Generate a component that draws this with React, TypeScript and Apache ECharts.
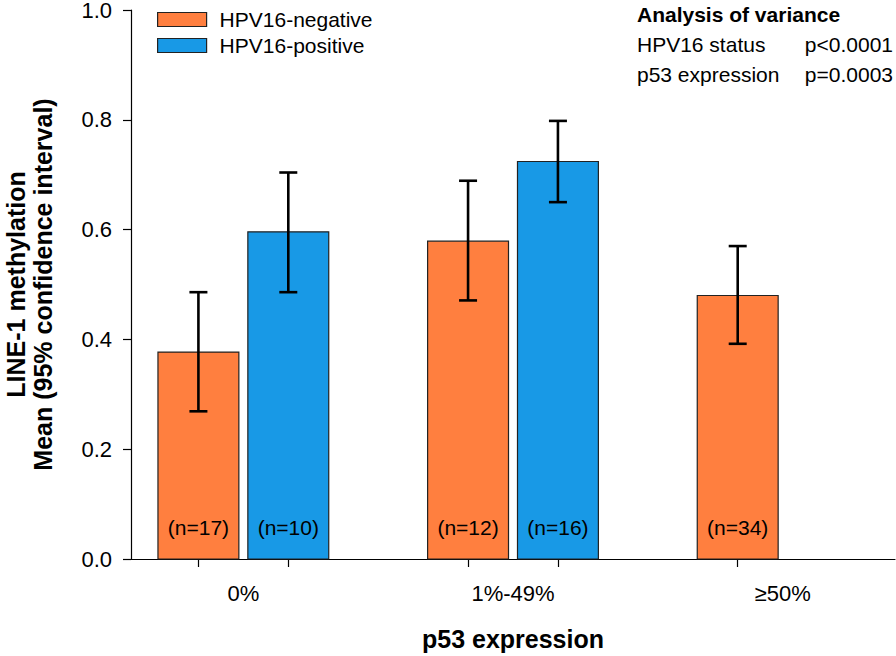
import React, { useEffect, useRef } from "react";
import * as echarts from "echarts";

const categories = ["0%", "1%-49%", "≥50%"];
const seriesNames = ["HPV16-negative", "HPV16-positive"];
const negMeans = [0.377, 0.579, 0.48];
const negLow = [0.269, 0.471, 0.392];
const negHigh = [0.486, 0.689, 0.57];
const negN = ["(n=17)", "(n=12)", "(n=34)"];
const posMeans: (number | null)[] = [0.596, 0.724, null];
const posLow: (number | null)[] = [0.486, 0.65, null];
const posHigh: (number | null)[] = [0.704, 0.798, null];
const posN: (string | null)[] = ["(n=10)", "(n=16)", null];
const anovaTitle = "Analysis of variance";
const anovaFactors = ["HPV16 status", "p53 expression"];
const anovaP = ["p<0.0001", "p=0.0003"];
const yAxisTitle = "LINE-1 methylation\nMean (95% confidence interval)";
const xAxisTitle = "p53 expression";

const FONT = "'Liberation Sans', Arial, sans-serif";
const ORANGE = "#FF7F3F";
const BLUE = "#1899E6";
const OFF = 1 / 6;
const MARGIN = 5 / 12;
const BAR_W = 0.3;

export default function App() {
  const ref = useRef<HTMLDivElement>(null);
  useEffect(() => {
    if (!ref.current) return;
    const chart = echarts.init(ref.current, undefined, { renderer: "svg" });

    const catPos = categories.map((_, i) => MARGIN + i);
    const negData = negMeans.map((v, i) => [catPos[i] - OFF, v]);
    const posData: number[][] = [];
    const posLabels: string[] = [];
    posMeans.forEach((v, i) => {
      if (v != null) {
        posData.push([catPos[i] + OFF, v]);
        posLabels.push(posN[i] as string);
      }
    });
    const errData: number[][] = [];
    negMeans.forEach((_, i) => errData.push([catPos[i] - OFF, negLow[i], negHigh[i]]));
    posMeans.forEach((v, i) => {
      if (v != null) errData.push([catPos[i] + OFF, posLow[i] as number, posHigh[i] as number]);
    });
    const tickPositions = errData.map((d) => d[0]).sort((a, b) => a - b);

    const barRenderer = (color: string, labels: string[]) => (params: any, api: any) => {
      const x = api.value(0);
      const top = api.coord([x, api.value(1)]);
      const base = api.coord([x, 0]);
      const w = api.size([BAR_W, 0])[0];
      return {
        type: "group",
        children: [
          {
            type: "rect",
            shape: { x: top[0] - w / 2, y: top[1], width: w, height: base[1] - top[1] },
            style: { fill: color, stroke: "#222", lineWidth: 1.2 },
          },
          {
            type: "text",
            x: top[0],
            y: base[1] - 21,
            style: {
              text: labels[params.dataIndex] ?? "",
              fontSize: 21,
              fontFamily: FONT,
              fill: "#000",
              align: "center",
              verticalAlign: "bottom",
              lineHeight: 22,
            },
          },
        ],
      };
    };

    const option: any = {
      animation: false,
      textStyle: { fontFamily: FONT },
      grid: { left: 131, right: 1, top: 10, bottom: 97, containLabel: false, outerBoundsMode: "none" },
      legend: {
        data: [
          { name: seriesNames[0], itemStyle: { color: ORANGE, borderColor: "#222", borderWidth: 1.2 } },
          { name: seriesNames[1], itemStyle: { color: BLUE, borderColor: "#222", borderWidth: 1.2 } },
        ],
        orient: "vertical",
        left: 157,
        top: 9,
        padding: 0,
        itemGap: 5,
        itemWidth: 49,
        itemHeight: 14,
        icon: "rect",
        selectedMode: false,
        textStyle: { fontSize: 21, color: "#000", fontFamily: FONT, lineHeight: 21, padding: [0, 0, 0, 8] },
      },
      xAxis: {
        type: "value",
        min: 0,
        max: 2 * MARGIN + categories.length - 1,
        splitLine: { show: false },
        axisLine: { show: true, onZero: false, lineStyle: { color: "#000", width: 1.2 } },
        axisTick: {
          show: true,
          length: 8,
          customValues: tickPositions,
          lineStyle: { color: "#000", width: 1.2 },
        },
        axisLabel: {
          customValues: catPos,
          formatter: (v: number) => categories[Math.round(v - MARGIN)] ?? "",
          fontSize: 22,
          color: "#000",
          fontFamily: FONT,
          margin: 23,
        },
        name: xAxisTitle,
        nameLocation: "middle",
        nameGap: 67,
        nameTextStyle: { fontSize: 25, fontWeight: "bold", color: "#000", fontFamily: FONT },
      },
      yAxis: {
        type: "value",
        position: "left",
        min: 0,
        max: 1,
        interval: 0.2,
        splitLine: { show: false },
        axisLine: { show: true, onZero: false, lineStyle: { color: "#000", width: 1.2 } },
        axisTick: { show: true, length: 8, lineStyle: { color: "#000", width: 1.2 } },
        axisLabel: {
          formatter: (v: number) => v.toFixed(1),
          fontSize: 22,
          lineHeight: 18,
          color: "#000",
          fontFamily: FONT,
          margin: 19,
        },
        name: yAxisTitle,
        nameLocation: "middle",
        nameRotate: 90,
        nameGap: 75,
        nameTextStyle: {
          fontSize: 25,
          fontWeight: "bold",
          color: "#000",
          fontFamily: FONT,
          lineHeight: 27,
          align: "center",
        },
      },
      series: [
        {
          name: seriesNames[0],
          type: "custom",
          data: negData,
          encode: { x: 0, y: 1 },
          itemStyle: { color: ORANGE, borderColor: "#222", borderWidth: 1.2 },
          renderItem: barRenderer(ORANGE, negN),
          z: 2,
        },
        {
          name: seriesNames[1],
          type: "custom",
          data: posData,
          encode: { x: 0, y: 1 },
          itemStyle: { color: BLUE, borderColor: "#222", borderWidth: 1.2 },
          renderItem: barRenderer(BLUE, posLabels),
          z: 2,
        },
        {
          type: "custom",
          name: "ci",
          data: errData,
          encode: { x: 0, y: [1, 2] },
          z: 5,
          silent: true,
          renderItem: (params: any, api: any) => {
            const x = api.value(0);
            const lo = api.coord([x, api.value(1)]);
            const hi = api.coord([x, api.value(2)]);
            const cap = 9;
            const style = { stroke: "#000", lineWidth: 2.6, fill: "none" };
            return {
              type: "group",
              children: [
                { type: "line", shape: { x1: lo[0], y1: lo[1], x2: hi[0], y2: hi[1] }, style },
                { type: "line", shape: { x1: lo[0] - cap, y1: lo[1], x2: lo[0] + cap, y2: lo[1] }, style },
                { type: "line", shape: { x1: hi[0] - cap, y1: hi[1], x2: hi[0] + cap, y2: hi[1] }, style },
              ],
            };
          },
        },
      ],
      graphic: [
        {
          type: "text",
          left: 637,
          top: 4,
          style: { text: anovaTitle, fontSize: 21, fontWeight: "bold", fill: "#000", fontFamily: FONT },
        },
        ...anovaFactors.map((f, i) => ({
          type: "text",
          left: 637,
          top: 34 + i * 30,
          style: { text: f, fontSize: 21, fill: "#000", fontFamily: FONT },
        })),
        ...anovaP.map((p, i) => ({
          type: "text",
          right: 3,
          top: 34 + i * 30,
          style: { text: p, fontSize: 21, fill: "#000", fontFamily: FONT },
        })),
      ],
    };
    chart.setOption(option);
    return () => chart.dispose();
  }, []);
  return (
    <div
      ref={ref}
      style={{ position: "fixed", left: 0, top: 0, width: 896, height: 656, background: "#fff" }}
    />
  );
}
